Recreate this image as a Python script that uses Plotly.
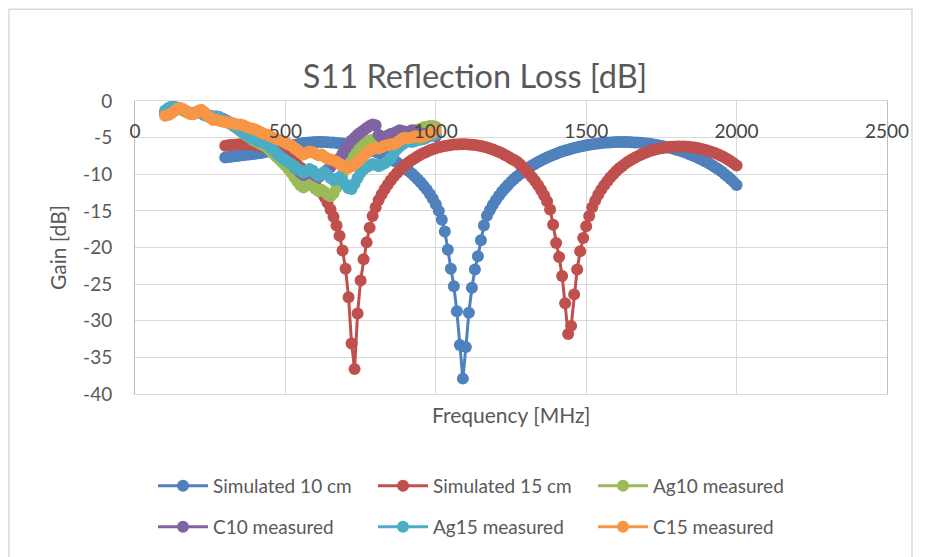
import plotly.graph_objects as go

# frequency sweeps (MHz)
freq_sim = list(range(300, 2001, 10))
freq_meas = list(range(100, 1001, 10))

# S11 [dB]
sim_10cm = [
    -7.7, -7.65, -7.6, -7.55, -7.5, -7.45, -7.4, -7.35, -7.3, -7.25,
    -7.2, -7.15, -7.1, -7.0, -6.9, -6.8, -6.7, -6.6, -6.5, -6.4,
    -6.3, -6.2, -6.1, -6.0, -5.9, -5.8, -5.75, -5.7, -5.65, -5.62,
    -5.6, -5.6, -5.6, -5.6, -5.62, -5.65, -5.68, -5.72, -5.76, -5.8,
    -5.85, -5.92, -5.99, -6.08, -6.17, -6.28, -6.39, -6.51, -6.65, -6.79,
    -6.94, -7.11, -7.29, -7.47, -7.68, -7.89, -8.12, -8.37, -8.64, -8.92,
    -9.23, -9.55, -9.91, -10.29, -10.69, -11.13, -11.6, -12.1, -12.7, -13.35,
    -14.1, -15.0, -16.2, -17.8, -20.3, -22.9, -25.3, -28.7, -33.3, -37.9,
    -33.6, -28.9, -25.5, -23.0, -21.2, -19.0, -17.0, -15.67, -14.87, -14.15,
    -13.51, -12.92, -12.39, -11.91, -11.46, -11.04, -10.66, -10.3, -9.96, -9.64,
    -9.35, -9.07, -8.81, -8.57, -8.33, -8.11, -7.91, -7.71, -7.53, -7.36,
    -7.19, -7.04, -6.9, -6.77, -6.64, -6.52, -6.41, -6.31, -6.22, -6.13,
    -6.05, -5.98, -5.91, -5.85, -5.8, -5.75, -5.71, -5.68, -5.65, -5.63,
    -5.61, -5.6, -5.6, -5.6, -5.61, -5.63, -5.65, -5.68, -5.71, -5.75,
    -5.8, -5.85, -5.91, -5.98, -6.05, -6.13, -6.22, -6.31, -6.41, -6.52,
    -6.64, -6.77, -6.9, -7.04, -7.19, -7.36, -7.53, -7.71, -7.91, -8.11,
    -8.33, -8.57, -8.81, -9.07, -9.35, -9.64, -9.96, -10.3, -10.66, -11.04,
    -11.46,
]

sim_15cm = [
    -6.1, -6.05, -6.0, -5.97, -5.95, -5.92, -5.9, -5.9, -5.92, -5.95,
    -6.0, -6.07, -6.15, -6.25, -6.37, -6.51, -6.66, -6.84, -7.03, -7.25,
    -7.49, -7.75, -8.04, -8.36, -8.7, -9.07, -9.48, -9.93, -10.42, -10.95,
    -11.5, -12.0, -12.5, -13.1, -13.9, -14.8, -15.8, -17.0, -18.4, -20.4,
    -22.9, -26.8, -33.1, -36.6, -29.0, -24.5, -21.6, -19.3, -17.3, -15.7,
    -14.5, -13.5, -12.75, -12.04, -11.42, -10.85, -10.34, -9.87, -9.44, -9.05,
    -8.7, -8.37, -8.07, -7.8, -7.55, -7.32, -7.11, -6.92, -6.74, -6.59,
    -6.45, -6.33, -6.23, -6.14, -6.06, -6.0, -5.95, -5.93, -5.9, -5.9,
    -5.9, -5.93, -5.97, -6.02, -6.08, -6.16, -6.26, -6.36, -6.49, -6.62,
    -6.78, -6.95, -7.14, -7.36, -7.59, -7.84, -8.05, -8.3, -8.65, -9.05,
    -9.5, -9.93, -10.41, -10.93, -11.51, -12.15, -12.87, -13.69, -14.8, -16.9,
    -19.4, -21.3, -23.9, -27.6, -31.8, -30.7, -26.4, -23.0, -20.5, -18.7,
    -17.1, -15.7, -14.5, -13.6, -12.8, -12.1, -11.5, -10.95, -10.45, -10.0,
    -9.55, -9.18, -8.86, -8.55, -8.27, -8.01, -7.77, -7.56, -7.36, -7.18,
    -7.02, -6.87, -6.74, -6.63, -6.53, -6.44, -6.37, -6.31, -6.26, -6.23,
    -6.21, -6.2, -6.2, -6.22, -6.25, -6.3, -6.35, -6.43, -6.51, -6.61,
    -6.72, -6.85, -6.99, -7.15, -7.32, -7.52, -7.73, -7.96, -8.22, -8.49,
    -8.8,
]

ag10_meas = [
    -1.6, -1.4, -1.2, -1.1, -1.0, -1.1, -1.3, -1.5, -1.7, -1.8,
    -1.7, -1.6, -1.7, -1.9, -2.1, -2.2, -2.3, -2.3, -2.4, -2.6,
    -2.8, -3.0, -3.2, -3.5, -3.8, -4.1, -4.4, -4.7, -5.0, -5.3,
    -5.5, -5.7, -5.9, -6.1, -6.4, -6.8, -7.2, -7.6, -8.0, -8.4,
    -8.8, -9.3, -9.8, -10.4, -11.0, -11.5, -11.8, -11.4, -11.2, -11.6,
    -12.0, -12.3, -12.1, -12.4, -12.8, -13.0, -12.6, -11.8, -11.0, -10.0,
    -9.0, -8.2, -7.6, -7.0, -6.5, -6.0, -5.8, -5.6, -5.4, -5.3,
    -5.2, -5.3, -5.2, -5.0, -4.9, -4.8, -4.7, -4.6, -4.5, -4.4,
    -4.3, -4.2, -4.1, -4.0, -3.9, -3.8, -3.6, -3.5, -3.4, -3.4,
    -3.5,
]

c10_meas = [
    -1.7, -1.5, -1.3, -1.1, -1.0, -1.0, -1.2, -1.4, -1.6, -1.7,
    -1.6, -1.4, -1.4, -1.7, -1.9, -2.0, -2.1, -2.1, -2.2, -2.4,
    -2.6, -2.8, -3.0, -3.2, -3.5, -3.8, -4.1, -4.4, -4.7, -4.9,
    -5.1, -5.3, -5.5, -5.6, -5.9, -6.2, -6.6, -7.0, -7.4, -7.7,
    -8.0, -8.3, -8.6, -9.0, -9.4, -9.8, -10.1, -9.9, -9.6, -9.9,
    -10.2, -10.4, -10.1, -9.7, -9.4, -9.0, -8.6, -8.2, -7.8, -7.2,
    -6.5, -5.9, -5.4, -5.0, -4.6, -4.3, -4.0, -3.7, -3.4, -3.2,
    -3.3, -4.6, -5.0, -4.9, -4.7, -4.5, -4.4, -4.2, -4.0, -4.1,
    -4.3, -4.2, -4.0, -4.1, -4.3, -4.4, -4.5, -4.6, -4.7, -4.7,
    -4.8,
]

ag15_meas = [
    -1.3, -1.0, -0.8, -0.8, -0.9, -1.0, -1.2, -1.4, -1.6, -1.7,
    -1.6, -1.5, -1.6, -1.9, -2.0, -2.1, -2.2, -2.1, -2.3, -2.5,
    -2.7, -2.9, -3.1, -3.4, -3.7, -4.0, -4.3, -4.6, -4.9, -5.1,
    -5.3, -5.5, -5.6, -5.7, -6.0, -6.3, -6.7, -7.1, -7.5, -7.8,
    -8.1, -8.4, -8.6, -8.9, -9.3, -9.5, -9.8, -9.6, -9.3, -9.5,
    -9.9, -10.2, -10.0, -9.7, -10.1, -10.5, -10.8, -10.6, -10.4, -10.9,
    -11.4, -11.9, -12.0, -11.3, -10.5, -9.8, -9.3, -9.0, -8.8, -8.6,
    -8.7, -8.9, -8.7, -8.5, -8.2, -7.8, -7.2, -6.6, -6.2, -5.9,
    -5.6, -5.5, -5.6, -5.5, -5.3, -5.3, -5.2, -5.0, -4.8, -4.7,
    -4.5,
]

c15_meas = [
    -2.0, -1.9, -1.7, -1.4, -1.1, -1.0, -1.1, -1.4, -1.7, -1.8,
    -1.7, -1.4, -1.2, -1.5, -1.9, -2.3, -2.6, -2.6, -2.7, -2.8,
    -2.9, -2.9, -3.0, -3.1, -3.2, -3.2, -3.3, -3.5, -3.7, -3.8,
    -3.9, -4.1, -4.3, -4.5, -4.6, -4.8, -5.0, -5.2, -5.3, -5.5,
    -5.7, -5.9, -6.1, -6.4, -6.7, -7.0, -7.3, -7.1, -6.9, -7.0,
    -7.2, -7.4, -7.3, -7.6, -7.9, -8.0, -8.1, -8.3, -8.6, -8.8,
    -9.0, -9.1, -8.9, -8.6, -8.3, -7.9, -7.5, -7.1, -6.8, -6.6,
    -6.4, -6.5, -6.3, -6.1, -6.0, -5.9, -5.9, -5.7, -5.4, -5.1,
    -5.0, -5.1, -5.0, -4.8, -4.9, -5.0, -4.8, -4.7, -4.5, -4.3,
    -4.1,
]

y_ticks = [0, -5, -10, -15, -20, -25, -30, -35, -40]
y_tick_text = ["0", "-5", "-10", "-15", "-20", "-25", "-30", "-35", "-40"]

series = [
    ("Simulated 10 cm", freq_sim, sim_10cm, "#4F81BD", "legend"),
    ("Simulated 15 cm", freq_sim, sim_15cm, "#C0504D", "legend"),
    ("Ag10 measured", freq_meas, ag10_meas, "#9BBB59", "legend"),
    ("C10 measured", freq_meas, c10_meas, "#8064A2", "legend2"),
    ("Ag15 measured", freq_meas, ag15_meas, "#4BACC6", "legend2"),
    ("C15 measured", freq_meas, c15_meas, "#F79646", "legend2"),
]

fig = go.Figure()
for name, x, y, color, leg in series:
    fig.add_trace(
        go.Scatter(
            x=x,
            y=y,
            name=name,
            mode="lines+markers",
            line=dict(color=color, width=3),
            marker=dict(color=color, size=12),
            legend=leg,
        )
    )

GRID = "#D9D9D9"
TEXT = "#595959"

# the page puts the figure 8px in from the top-left corner,
# so the figure is 8px smaller and every position is shifted by 8
W, H = 917, 549
PL, PT, PR, PB = 127, 93, 879, 387  # plot area in figure pixels
ph = PB - PT
pw = PR - PL


def py(y):
    return (PB - y) / ph


def px(x):
    return (x - PL) / pw


fig.update_layout(
    width=W,
    height=H,
    margin=dict(l=PL, r=W - PR, t=PT, b=H - PB),
    paper_bgcolor="white",
    plot_bgcolor="white",
    font=dict(family="Lato, sans-serif", color=TEXT, size=19),
    title=dict(
        text="S11 Reflection Loss [dB]",
        x=467 / W,
        xref="container",
        xanchor="center",
        y=1 - 69 / H,
        yref="container",
        yanchor="middle",
        font=dict(size=32.5, color=TEXT),
    ),
    xaxis=dict(
        range=[0, 2500],
        dtick=500,
        side="top",
        ticks="",
        ticklabelposition="inside",
        ticklabelstandoff=25,
        ticklabeloverflow="allow",
        showgrid=True,
        gridcolor=GRID,
        showline=True,
        linecolor=GRID,
        mirror=True,
        zeroline=False,
    ),
    yaxis=dict(
        range=[-40, 0],
        tickvals=y_ticks,
        ticktext=y_tick_text,
        ticks="",
        ticklabelstandoff=18,
        showgrid=True,
        gridcolor=GRID,
        showline=True,
        linecolor="#BFBFBF",
        mirror=True,
        zeroline=False,
        title=dict(text="Gain [dB]", standoff=10, font=dict(size=21)),
    ),
    legend=dict(
        orientation="h",
        x=px(145),
        xanchor="left",
        y=py(478),
        yanchor="middle",
        itemwidth=50,
        entrywidth=155,
        font=dict(size=19),
        bgcolor="rgba(0,0,0,0)",
    ),
    legend2=dict(
        orientation="h",
        x=px(145),
        xanchor="left",
        y=py(519),
        yanchor="middle",
        itemwidth=50,
        entrywidth=155,
        font=dict(size=19),
        bgcolor="rgba(0,0,0,0)",
    ),
    annotations=[
        dict(
            text="Frequency [MHz]",
            x=0.5,
            xref="paper",
            y=py(408),
            yref="paper",
            xanchor="center",
            yanchor="middle",
            showarrow=False,
            font=dict(size=21, color=TEXT),
        )
    ],
    shapes=[
        dict(
            type="rect",
            xref="paper",
            yref="paper",
            x0=px(1),
            x1=px(904),
            y0=py(560),
            y1=py(1),
            line=dict(color=GRID, width=1.5),
            layer="below",
        )
    ],
)

fig.write_html("out.html")
